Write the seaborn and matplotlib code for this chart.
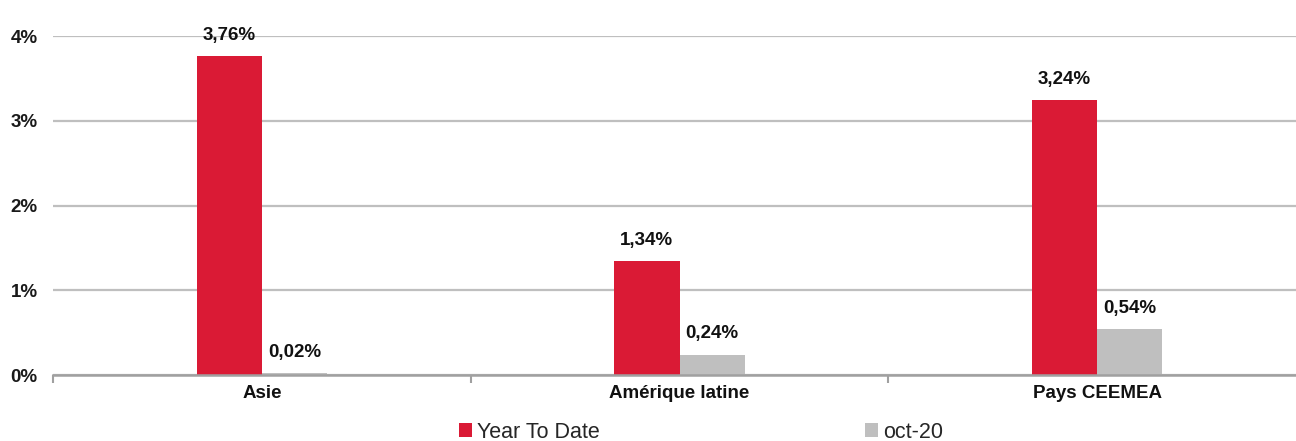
import matplotlib
matplotlib.use("Agg")
import matplotlib.pyplot as plt
import seaborn as sns
import pandas as pd
from matplotlib.patches import Patch
from matplotlib.ticker import FixedLocator

regions = ["Asie", "Amérique latine", "Pays CEEMEA"]
series_names = ["Year To Date", "oct-20"]
ytd = [3.76, 1.34, 3.24]
oct20 = [0.02, 0.24, 0.54]
yticks = [0, 1, 2, 3, 4]
ytick_labels = ["0%", "1%", "2%", "3%", "4%"]

RED = "#DA1A35"
GRAY = "#BFBFBF"

sns.set_theme(style="white")
plt.rcParams["font.family"] = ["Liberation Sans", "DejaVu Sans"]

df = pd.DataFrame({
    "region": regions * 2,
    "series": [series_names[0]] * 3 + [series_names[1]] * 3,
    "value": ytd + oct20,
})

fig = plt.figure(figsize=(12.96, 4.41), dpi=100)
ax = fig.add_axes([53 / 1296, 66 / 441, (1306 - 53) / 1296, 339 / 441])

sns.barplot(data=df, x="region", y="value", hue="series", order=regions,
            hue_order=series_names, palette=[RED, GRAY], width=0.312,
            gap=0, linewidth=0, saturation=1, errorbar=None, ax=ax,
            legend=False)

ax.set_xlim(-0.5, 2.5)
ax.set_ylim(0, 4)
ax.set_yticks(yticks)
ax.set_yticklabels(ytick_labels, fontsize=13.5, fontweight="bold", color="#1a1a1a")
ax.tick_params(axis="y", length=0, pad=11)
ax.set_xticks(range(len(regions)))
ax.set_xticklabels(regions, fontsize=13.5, fontweight="bold", color="#111111")
ax.tick_params(axis="x", which="major", length=0, pad=7)
ax.xaxis.set_minor_locator(FixedLocator([-0.5, 0.5, 1.5, 2.5]))
ax.tick_params(axis="x", which="minor", bottom=True, length=6, width=1.5,
               color="#A0A0A0", direction="out")
ax.set_xlabel("")
ax.set_ylabel("")

ax.yaxis.grid(True, color="#BFBFBF", linewidth=1.6)
ax.set_axisbelow(True)
for s in ["top", "right", "left"]:
    ax.spines[s].set_visible(False)
ax.spines["bottom"].set_color("#A0A0A0")
ax.spines["bottom"].set_linewidth(1.8)

for cont, vals in zip(ax.containers, [ytd, oct20]):
    labels = [f"{v:.2f}".replace(".", ",") + "%" for v in vals]
    ax.bar_label(cont, labels=labels, padding=9, fontsize=13.5,
                 fontweight="bold", color="#111111")

handles = [Patch(facecolor=RED, edgecolor="none"), Patch(facecolor=GRAY, edgecolor="none")]
fig.legend(handles, series_names, loc="center", bbox_to_anchor=(701 / 1296, 1 - 432 / 441),
           ncol=2, frameon=False, fontsize=15.5, handlelength=0.6, handleheight=0.6,
           handletextpad=0.25, columnspacing=12.3, borderaxespad=0, borderpad=0)

fig.savefig("out.png", dpi=100)
